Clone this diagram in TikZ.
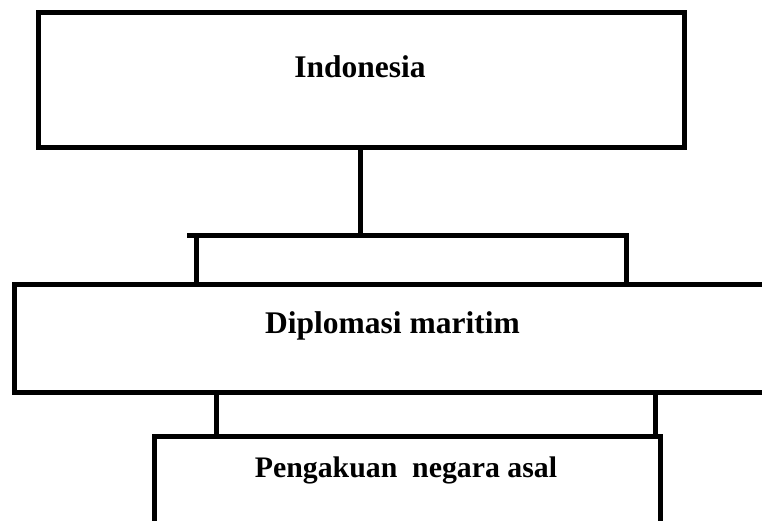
\documentclass[tikz,border=0pt]{standalone}
\usepackage{fontspec}
\setmainfont{Liberation Serif}
\begin{document}
\begin{tikzpicture}[x=1pt,y=-1pt,
  box/.style={draw=black,line width=5pt,rectangle,inner sep=0pt,outer sep=0pt,fill=white},
  link/.style={draw=black,line width=5pt},
  lbl/.style={font=\fontsize{31.5}{36}\selectfont\bfseries,inner sep=0pt,anchor=base}]
\useasboundingbox (0,0) rectangle (762,521);
\clip (0,0) rectangle (762,521);

% boxes
\node[box,minimum width=646pt,minimum height=135.5pt] (ind) at (361,80.25) {};
\node[box,minimum width=786pt,minimum height=108pt] (dip) at (407,338.5) {};
\node[box,minimum width=506pt,minimum height=123pt] (pen) at (407,498) {};

% labels
\node[lbl] (tind) at (360,78) {Indonesia};
\node[lbl] (tdip) at (392.5,333) {Diplomasi maritim};
\node[lbl,font=\fontsize{29.8}{34}\selectfont\bfseries] (tpen) at (406,477) {Pengakuan\ \ negara asal};

% branch bar between the first two boxes
\coordinate (barL) at (187,235.5);
\coordinate (barR) at (629,235.5);
\coordinate (barM) at (360,235.5);
\coordinate (dropL) at (196,235.5);
\coordinate (dropR) at (626,235.5);
\draw[link] (ind.south -| barM) -- (barM);
\draw[link] (barL) -- (barR);
\draw[link] (dropL) -- (dropL |- dip.north);
\draw[link] (dropR) -- (dropR |- dip.north);

% links between the lower two boxes
\coordinate (lowL) at (216,0);
\coordinate (lowR) at (655,0);
\draw[link] (dip.south -| lowL) -- (pen.north -| lowL);
\draw[link] (dip.south -| lowR) -- (pen.north -| lowR);
\end{tikzpicture}
\end{document}
